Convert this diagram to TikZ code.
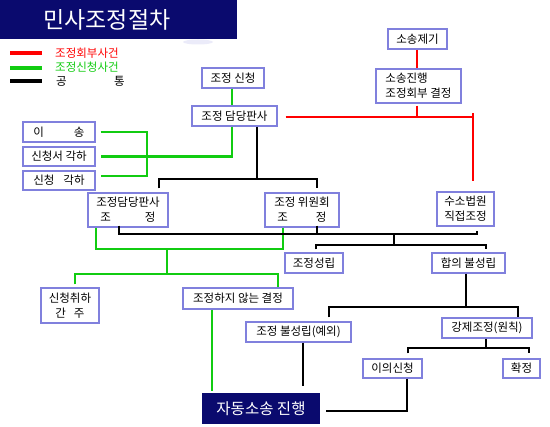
\documentclass[tikz,border=0pt]{standalone}
\usepackage{fontspec}
\setmainfont{Noto Sans CJK KR}
\definecolor{navy}{HTML}{0A0A6E}
\definecolor{boxc}{HTML}{8080DD}
\definecolor{gline}{HTML}{11CC11}
\definecolor{rline}{HTML}{FF0000}
\begin{document}
\begin{tikzpicture}[x=1pt,y=-1pt,
  box/.style={draw=boxc, line width=1.2pt, fill=white, inner sep=0pt,
    font=\fontsize{11.5}{15}\selectfont, align=center},
  gl/.style={draw=gline, line width=2.6pt},
  rl/.style={draw=rline, line width=2.6pt},
  bl/.style={draw=black, line width=2.4pt},
  legline/.style={line width=4.5pt},
  legtext/.style={anchor=west, inner sep=0pt, font=\fontsize{11.5}{13}\selectfont}]
\useasboundingbox (0,0) rectangle (550,427);
\fill[white] (0,0) rectangle (550,427);

% title bar
\fill[navy] (0,0) rectangle (237,39);
\shade[left color=navy, middle color=navy!72!white, right color=navy] (176,4) rectangle (216,36);
\fill[boxc!60, opacity=0.25] (198,42) ellipse (15pt and 2.5pt);
\node[text=white, inner sep=0pt, font=\fontsize{23}{26}\selectfont] (title) at (107,20) {민사조정절차};

% legend
\draw[rline, legline] (10,53) -- (42,53);
\draw[gline, legline] (10,68) -- (42,68);
\draw[black, legline] (10,81) -- (42,81);
\node[legtext, text=rline] (lg1) at (55,53) {조정회부사건};
\node[legtext, text=gline] (lg2) at (55,67) {조정신청사건};
\node[legtext] (lg3) at (56,81) {공};
\node[legtext] (lg4) at (114,81) {통};

% nodes
\node[box, minimum width=62pt, minimum height=20pt] (sj) at (233,78) {조정 신청};
\node[box, minimum width=85pt, minimum height=20pt] (jd) at (234.5,116) {조정 담당판사};
\node[box, minimum width=59pt, minimum height=20pt] (sg) at (417.5,39) {소송제기};
\node[box, minimum width=85pt, minimum height=34pt, align=left] (sjh) at (418.5,86) {소송진행\\조정회부 결정};
\node[box, minimum width=57pt, minimum height=34pt] (su) at (465.5,209) {수소법원\\직접조정};
\node[box, minimum width=72pt, minimum height=20pt] (is) at (59,132) {이\hspace{30pt}송};
\node[box, minimum width=72pt, minimum height=19pt] (ss) at (59,156.5) {신청서 각하};
\node[box, minimum width=72pt, minimum height=19pt] (sc) at (59,180.5) {신청\hspace{9pt}각하};
\node[box, minimum width=80pt, minimum height=34pt] (jj) at (128,210) {조정담당판사\\조\hspace{34pt}정};
\node[box, minimum width=74pt, minimum height=34pt] (jw) at (302,210) {조정 위원회\\조\hspace{28pt}정};
\node[box, minimum width=58pt, minimum height=20pt] (jsr) at (314,263) {조정성립};
\node[box, minimum width=73pt, minimum height=20pt] (hb) at (468.5,263) {합의 불성립};
\node[box, minimum width=58pt, minimum height=35pt] (sch) at (70,305.5) {신청취하\\간\hspace{8pt}주};
\node[box, minimum width=110pt, minimum height=21pt] (jan) at (238,298.5) {조정하지 않는 결정};
\node[box, minimum width=105pt, minimum height=20pt] (jbs) at (298.5,332) {조정 불성립(예외)};
\node[box, minimum width=90pt, minimum height=20pt] (gj) at (487,328) {강제조정(원칙)};
\node[box, minimum width=59pt, minimum height=19pt] (ui) at (392.5,368.5) {이의신청};
\node[box, minimum width=37pt, minimum height=19pt] (hj) at (521.5,368.5) {확정};
\node[box, draw=navy, fill=navy, text=white, minimum width=116pt, minimum height=29pt,
  font=\fontsize{15.5}{18}\selectfont] (ja) at (261,408.5) {자동소송 진행};

% junction coordinates
\coordinate (gv1) at (147,132);
\coordinate (gv2) at (147,176);
\coordinate (g1) at (167,249);
\coordinate (g2) at (167,274);
\coordinate (b1) at (257,179);
\coordinate (b2) at (394,234);
\coordinate (b3) at (394,245);
\coordinate (b4) at (466,307);
\coordinate (b5) at (486,348);
\coordinate (r1) at (417,117);
\coordinate (r2) at (473,117);
\coordinate (r3) at (473,113);

% green connectors
\draw[gl] ([xshift=-1]sj.south) -- ([xshift=-2.5]jd.north);
\draw[gl] ([xshift=-2.5]jd.south) |- ([xshift=5]ss.east);
\draw[gl] ([xshift=5]is.east) -- (gv1) -- (gv2) -- ([xshift=5,yshift=4.5]sc.east);
\draw[gl] ([xshift=-32]jj.south) |- (g1) -| ([xshift=-19]jw.south);
\draw[gl] (g1) -- (g2);
\draw[gl] ([xshift=5,yshift=3]sch.north) |- (g2) -| ([xshift=40]jan.north);
\draw[gl, shorten >=2pt] ([xshift=-26]jan.south) -- ([xshift=-49]ja.north);

% black connectors
\draw[bl] ([xshift=22.5]jd.south) -- (b1);
\draw[bl] ([xshift=31,yshift=4]jj.north) |- (b1) -| ([xshift=15,yshift=4]jw.north);
\draw[bl] ([xshift=-9,yshift=2]jj.south) |- (b2) -| ([xshift=11.5,yshift=-4]su.south);
\draw[bl] ([xshift=15,yshift=2]jw.south) -- ++(0,9);
\draw[bl] (b2) -- (b3);
\draw[bl] ([xshift=2,yshift=3]jsr.north) |- (b3) -| ([xshift=17.5,yshift=3]hb.north);
\draw[bl] ([xshift=-2.5]hb.south) -- (b4);
\draw[bl] ([xshift=30.5,yshift=4]jbs.north) |- (b4) -| ([xshift=31]gj.north);
\draw[bl] ([xshift=-1]gj.south) -- (b5);
\draw[bl] ([xshift=15.5,yshift=5]ui.north) |- (b5) -| ([xshift=7.5,yshift=5]hj.north);
\draw[bl] ([xshift=4.5]jbs.south) -- ([xshift=42,yshift=7]ja.north);
\draw[bl] ([xshift=14.5]ui.south) |- ([xshift=6,yshift=-2.5]ja.east);

% red connectors
\draw[rl] ([xshift=-0.5]sg.south) -- ([xshift=-1.5]sjh.north);
\draw[rl, shorten <=2pt] ([xshift=-1.5]sjh.south) -- (r1);
\draw[rl] ([xshift=8,yshift=-1]jd.east) -- (r2);
\draw[rl] (r3) -- ([xshift=7.5,yshift=10]su.north);
\end{tikzpicture}
\end{document}
